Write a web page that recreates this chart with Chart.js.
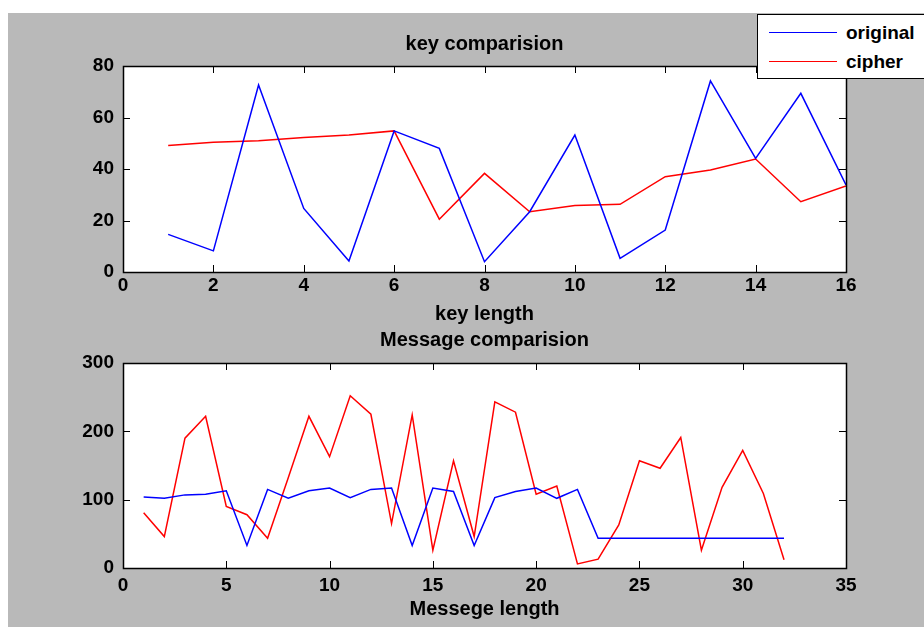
<!DOCTYPE html>
<html>
<head>
<meta charset="utf-8">
<script src="https://cdn.jsdelivr.net/npm/chart.js@4.4.1/dist/chart.umd.min.js"></script>
<style>
  html, body { margin: 0; padding: 0; background: #ffffff; width: 924px; height: 627px; overflow: hidden; }
  #fig { position: absolute; left: 8px; top: 13px; width: 916px; height: 614px; background: #b9b9b9; }
  canvas { position: absolute; left: 0; }
  #c1 { top: 0; }
  #c2 { top: 326px; }
  #legend { position: absolute; left: 757px; top: 14px; width: 180px; height: 63px; background: #fff; border: 1px solid #000; z-index: 5;
            font-family: "Liberation Sans", Arial, sans-serif; font-weight: bold; font-size: 19px; color: #000; }
  .row { position: absolute; left: 0; height: 24px; }
  .sw { position: absolute; left: 11px; width: 68px; height: 0; border-top: 1.5px solid; top: 11px; }
  .lb { position: absolute; left: 88px; top: 0; line-height: 24px; white-space: nowrap; }
</style>
</head>
<body>
<div id="fig"></div>
<canvas id="c1" width="924" height="326"></canvas>
<canvas id="c2" width="924" height="301"></canvas>
<div id="legend"></div>
<script>
// ---- Data ----
const seriesNames = ['original', 'cipher'];
const seriesColors = ['#0000ff', '#ff0000'];

const keyX = [1, 2, 3, 4, 5, 6, 7, 8, 9, 10, 11, 12, 13, 14, 15, 16];
const keyOriginal = [14.6, 8.2, 72.6, 24.7, 4.3, 54.8, 48, 4, 23.4, 53.2, 5.3, 16.3, 74.2, 44.1, 69.4, 33.8];
const keyCipher   = [49.1, 50.4, 51, 52.2, 53.2, 54.8, 20.5, 38.3, 23.4, 25.8, 26.3, 37, 39.6, 43.9, 27.3, 33.4];

const msgX = [1,2,3,4,5,6,7,8,9,10,11,12,13,14,15,16,17,18,19,20,21,22,23,24,25,26,27,28,29,30,31,32];
const msgOriginal = [104, 102, 107, 108, 113, 33, 115, 102, 113, 117, 103, 115, 117, 33, 117, 112, 33, 103, 112, 117, 102, 115, 43.5, 43.5, 43.5, 43.5, 43.5, 43.5, 43.5, 43.5, 43.5, 43.5];
const msgCipher   = [81, 46, 190, 222, 90, 78, 43.5, 132, 222, 163, 252, 225, 65, 224, 26, 157, 46, 243, 228, 108, 120, 6, 13, 63, 157, 146, 191, 26, 118, 172, 109, 12];

const keyTitle = 'key comparision';
const keyXLabel = 'key length';
const keyXTicks = { min: 0, max: 16, step: 2 };
const keyYTicks = { min: 0, max: 80, step: 20 };

const msgTitle = 'Message comparision';
const msgXLabel = 'Messege length';
const msgXTicks = { min: 0, max: 35, step: 5 };
const msgYTicks = { min: 0, max: 300, step: 100 };

// ---- Helpers ----
const FONT = '"Liberation Sans", Arial, sans-serif';

const boxPlugin = {
  id: 'matlabBox',
  beforeDatasetsDraw(chart) {
    const { ctx, chartArea: a } = chart;
    ctx.save();
    ctx.fillStyle = '#ffffff';
    ctx.fillRect(a.left, a.top, a.right - a.left, a.bottom - a.top);
    ctx.restore();
  },
  afterDatasetsDraw(chart) {
    const { ctx, chartArea: a, scales } = chart;
    const x = scales.x, y = scales.y;
    const tl = 7;
    ctx.save();
    ctx.strokeStyle = '#000';
    ctx.lineWidth = 1;
    ctx.beginPath();
    x.ticks.forEach(t => {
      const px = Math.round(x.getPixelForValue(t.value)) + 0.5;
      ctx.moveTo(px, a.bottom); ctx.lineTo(px, a.bottom - tl);
      ctx.moveTo(px, a.top); ctx.lineTo(px, a.top + tl);
    });
    y.ticks.forEach(t => {
      const py = Math.round(y.getPixelForValue(t.value)) + 0.5;
      ctx.moveTo(a.left, py); ctx.lineTo(a.left + tl, py);
      ctx.moveTo(a.right, py); ctx.lineTo(a.right - tl, py);
    });
    ctx.stroke();
    ctx.lineWidth = 1.5;
    ctx.strokeRect(Math.round(a.left) + 0.5, Math.round(a.top) + 0.5, Math.round(a.right - a.left), Math.round(a.bottom - a.top));
    ctx.restore();
  }
};

function makeChart(id, xs, ys, title, xlabel, xt, yt, opts) {
  const datasets = ys.map((arr, i) => ({
    label: seriesNames[i],
    data: xs.map((xv, j) => ({ x: xv, y: arr[j] })),
    borderColor: seriesColors[i],
    backgroundColor: seriesColors[i],
    borderWidth: 1.5,
    pointRadius: 0,
    tension: 0,
    fill: false
  }));
  return new Chart(document.getElementById(id), {
    type: 'line',
    data: { datasets },
    plugins: [boxPlugin],
    options: {
      responsive: false,
      animation: false,
      events: [],
      layout: { padding: { left: 0, right: 78, top: 0, bottom: 0 } },
      plugins: {
        legend: { display: false },
        tooltip: { enabled: false },
        title: {
          display: true, text: title, fullSize: false, color: '#000',
          font: { family: FONT, size: 20, weight: 'bold', lineHeight: 1.2 },
          padding: { top: opts.titleTop, bottom: opts.titleBottom }
        }
      },
      scales: {
        x: {
          type: 'linear', position: 'bottom', min: xt.min, max: xt.max,
          grid: { display: false, drawTicks: false },
          border: { display: false },
          ticks: { stepSize: xt.step, color: '#000', padding: opts.xTickPad, maxRotation: 0, autoSkip: false,
                   font: { family: FONT, size: 19, weight: 'bold', lineHeight: 1.2 } },
          title: { display: true, text: xlabel, color: '#000', padding: { top: 0, bottom: opts.xTitleBottom },
                   font: { family: FONT, size: 20, weight: 'bold', lineHeight: 1.2 } },
          afterFit: (s) => { s.height = opts.xAxisH; }
        },
        y: {
          type: 'linear', position: 'left', min: yt.min, max: yt.max,
          grid: { display: false, drawTicks: false },
          border: { display: false },
          ticks: { stepSize: yt.step, color: '#000', padding: 9,
                   font: { family: FONT, size: 19, weight: 'bold', lineHeight: 1.2 } },
          afterFit: (s) => { s.width = 123; }
        }
      }
    }
  });
}

makeChart('c1', keyX, [keyOriginal, keyCipher], keyTitle, keyXLabel, keyXTicks, keyYTicks,
  { titleTop: 32, titleBottom: 10, xTickPad: 2, xTitleBottom: 0, xAxisH: 54 });
makeChart('c2', msgX, [msgOriginal, msgCipher], msgTitle, msgXLabel, msgXTicks, msgYTicks,
  { titleTop: 2, titleBottom: 11, xTickPad: 6, xTitleBottom: 6, xAxisH: 59 });

// ---- Legend (HTML, built from the series arrays) ----
const lg = document.getElementById('legend');
seriesNames.forEach((name, i) => {
  const row = document.createElement('div');
  row.className = 'row';
  row.style.top = (6 + i * 29) + 'px';
  const sw = document.createElement('span');
  sw.className = 'sw';
  sw.style.borderColor = seriesColors[i];
  const lb = document.createElement('span');
  lb.className = 'lb';
  lb.textContent = name;
  row.appendChild(sw); row.appendChild(lb);
  lg.appendChild(row);
});
</script>
</body>
</html>
